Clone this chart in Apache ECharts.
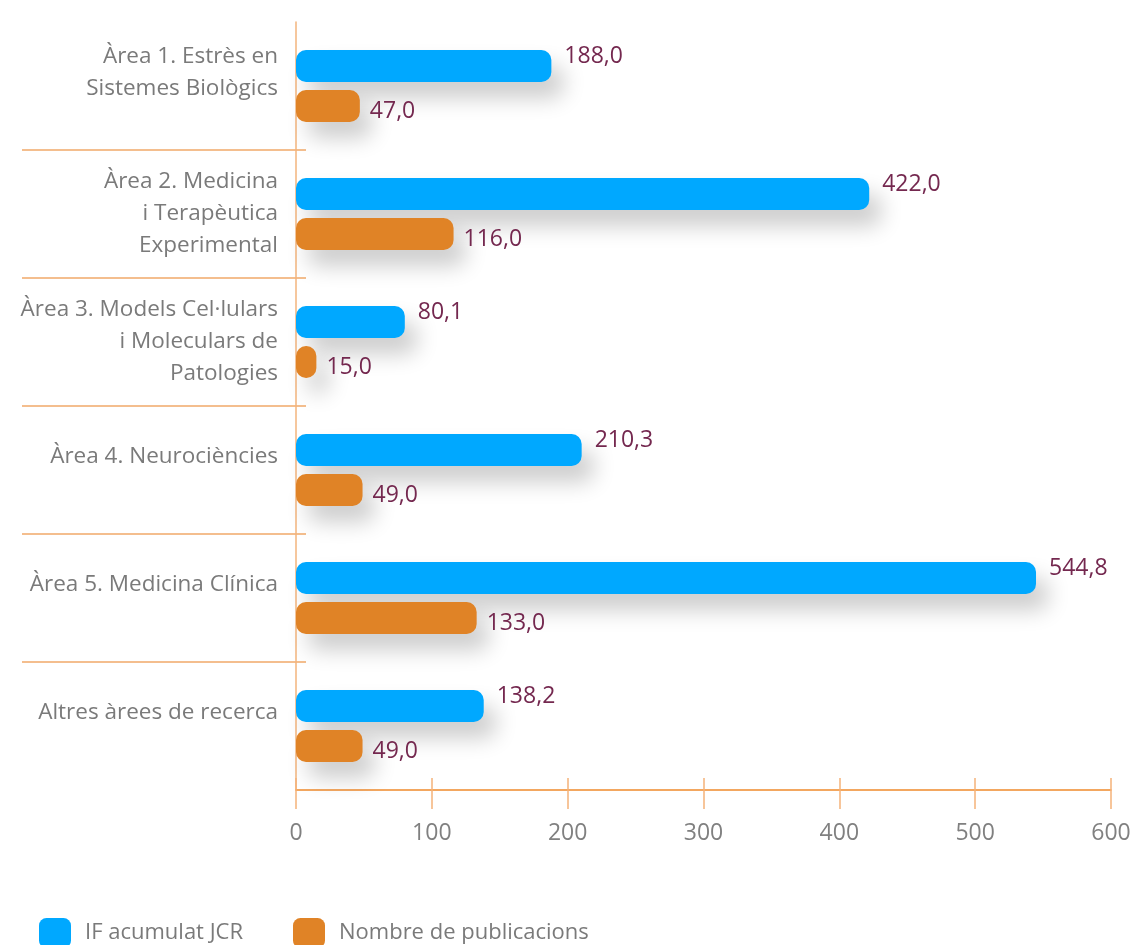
<!DOCTYPE html>
<html>
<head>
<meta charset="utf-8">
<script src="https://cdn.jsdelivr.net/npm/echarts@6/dist/echarts.min.js"></script>
<style>
  html, body { margin: 0; padding: 0; background: #fff; }
  #chart { width: 1144px; height: 945px; }
</style>
</head>
<body>
<div id="chart"></div>
<script>
// Àrees de recerca (eix vertical)
const categories = [
    "Àrea 1. Estrès en\nSistemes Biològics",
    "Àrea 2. Medicina\ni Terapèutica\nExperimental",
    "Àrea 3. Models Cel·lulars\ni Moleculars de\nPatologies",
    "Àrea 4. Neurociències",
    "Àrea 5. Medicina Clínica",
    "Altres àrees de recerca"
];

// Valors de cada sèrie
const ifAcumulat = [188.0, 422.0, 80.1, 210.3, 544.8, 138.2];
const publicacions = [47.0, 116.0, 15.0, 49.0, 133.0, 49.0];

const seriesNames = ["IF acumulat JCR", "Nombre de publicacions"];
const xTicks = { min: 0, max: 600, interval: 100 };

const FONT = "Open Sans";
const TOP = 22;
const BOTTOM = 155;

// Format català: coma decimal
function fmt(v)
{
    return v.toFixed(1).replace(".", ",");
}

const barShadow = {
    shadowColor: "rgba(0, 0, 0, 0.2)",
    shadowBlur: 22,
    shadowOffsetX: 12,
    shadowOffsetY: 16
};

const chart = echarts.init(document.getElementById("chart"));

chart.setOption({
    animation: false,
    textStyle: { fontFamily: FONT },
    grid: [
        // Zona de les barres
        { left: 296, right: 33, top: TOP, bottom: BOTTOM },
        // Zona de les etiquetes (només per als separadors)
        { left: 22, width: 284, top: TOP, bottom: BOTTOM }
    ],
    legend: {
        left: 34,
        top: 913,
        icon: "roundRect",
        itemWidth: 32,
        itemHeight: 30,
        itemGap: 50,
        data: seriesNames,
        textStyle: {
            fontFamily: FONT,
            fontSize: 22,
            color: "#7a7a7a",
            padding: [0, 0, 0, 9]
        }
    },
    xAxis: [
        {
            gridIndex: 0,
            type: "value",
            ...xTicks,
            axisLine: { show: true, lineStyle: { color: "#f08a2c", width: 1.5 } },
            axisTick: { show: true, length: 19, lineStyle: { color: "#f5b27a", width: 1.5 } },
            splitLine: { show: false },
            axisLabel: { margin: 32, fontSize: 23, color: "#808080", fontFamily: FONT }
        },
        {
            // Segon eix només per als ticks cap amunt
            gridIndex: 0,
            type: "value",
            position: "bottom",
            ...xTicks,
            axisLine: { show: false },
            axisTick: { show: true, inside: true, length: 12, lineStyle: { color: "#f5b27a", width: 1.5 } },
            splitLine: { show: false },
            axisLabel: { show: false }
        },
        {
            gridIndex: 1,
            type: "value",
            show: false
        }
    ],
    yAxis: [
        {
            gridIndex: 0,
            type: "category",
            inverse: true,
            data: categories,
            axisLine: { show: true, lineStyle: { color: "#f3b57c", width: 1.5 } },
            axisTick: { show: false },
            axisLabel: {
                margin: 18,
                fontSize: 22.5,
                lineHeight: 32,
                color: "#7a7a7a",
                fontFamily: FONT,
                align: "right",
                // Les etiquetes curtes queden una mica per sobre del centre
                formatter: (v) => v.split("\n").length < 3 ? v + "\n{gap| }" : v,
                rich: { gap: { lineHeight: 26, fontSize: 10 } }
            }
        },
        {
            gridIndex: 1,
            type: "category",
            inverse: true,
            data: categories,
            axisLine: { show: false },
            axisTick: { show: false },
            axisLabel: { show: false },
            splitLine: {
                show: true,
                showMinLine: false,
                showMaxLine: false,
                lineStyle: { color: "#f0a868", width: 1.5 }
            }
        }
    ],
    series: [
        {
            name: seriesNames[0],
            type: "bar",
            xAxisIndex: 0,
            yAxisIndex: 0,
            data: ifAcumulat,
            barWidth: 32,
            barGap: "25%",
            itemStyle: { color: "#00a8ff", borderRadius: 10, ...barShadow },
            label: {
                show: true,
                position: "right",
                distance: 13,
                offset: [0, -10],
                fontSize: 23,
                color: "#74284f",
                fontFamily: FONT,
                formatter: (p) => fmt(p.value)
            }
        },
        {
            name: seriesNames[1],
            type: "bar",
            xAxisIndex: 0,
            yAxisIndex: 0,
            data: publicacions,
            barWidth: 32,
            barGap: "25%",
            itemStyle: { color: "#e08326", borderRadius: 10, ...barShadow },
            label: {
                show: true,
                position: "right",
                distance: 10,
                offset: [0, 5],
                fontSize: 23,
                color: "#74284f",
                fontFamily: FONT,
                formatter: (p) => fmt(p.value)
            }
        }
    ]
});
</script>
</body>
</html>
